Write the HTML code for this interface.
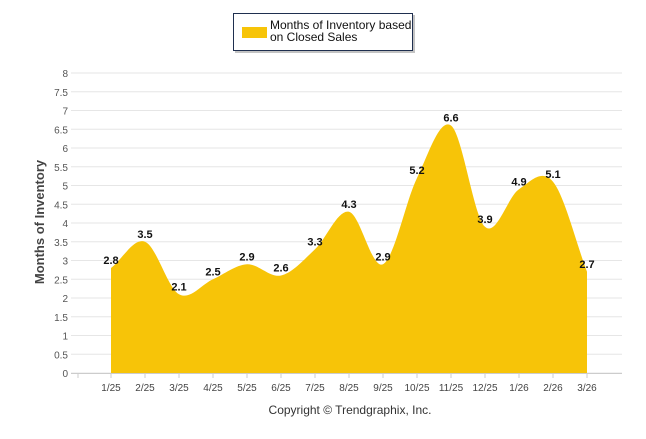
<!DOCTYPE html>
<html><head><meta charset="utf-8"><style>
body{margin:0;background:#fff;width:646px;height:434px;overflow:hidden;font-family:"Liberation Sans",sans-serif}
</style></head><body>
<svg width="646" height="434">
<g id="grid"></g>
<path id="area" fill="#F7C408"/>
<g id="labels"></g>
<g id="axis"></g>
<text x="44" y="222" transform="rotate(-90 44 222)" text-anchor="middle" font-size="13" font-weight="bold" fill="#444">Months of Inventory</text>
<text x="350" y="414" text-anchor="middle" font-size="12" fill="#333">Copyright © Trendgraphix, Inc.</text>
<g>
<rect x="235" y="15" width="180" height="38" fill="#888" opacity="0.5"/>
<rect x="233.5" y="13.5" width="179" height="37" fill="#fff" stroke="#1f2f4f" stroke-width="1"/>
<rect x="242" y="27" width="25" height="11" fill="#F7C408"/>
<text x="270" y="29" font-size="12" fill="#111"><tspan x="270">Months of Inventory based</tspan><tspan x="270" dy="12">on Closed Sales</tspan></text>
</g>
</svg>
<script>
const categories=["1/25","2/25","3/25","4/25","5/25","6/25","7/25","8/25","9/25","10/25","11/25","12/25","1/26","2/26","3/26"];
const values=[2.8,3.5,2.1,2.5,2.9,2.6,3.3,4.3,2.9,5.2,6.6,3.9,4.9,5.1,2.7];
const yTicks=[0,0.5,1,1.5,2,2.5,3,3.5,4,4.5,5,5.5,6,6.5,7,7.5,8];
const NS="http://www.w3.org/2000/svg";
const X=i=>111+i*34, Y=v=>373-v*37.5;
const grid=document.getElementById('grid'),axis=document.getElementById('axis'),labels=document.getElementById('labels');
function mk(tag,attrs,parent){const e=document.createElementNS(NS,tag);for(const k in attrs)e.setAttribute(k,attrs[k]);parent.appendChild(e);return e;}
yTicks.forEach(t=>{
 const l=mk('line',{x1:71,x2:622,y1:Y(t),y2:Y(t),stroke:'#e6e6e6'},grid);
 
 
 const tx=mk('text',{x:68,y:Y(t)+4,'text-anchor':'end','font-size':'10',fill:'#555'},axis);
 tx.textContent=t;
 
 
});
mk('line',{x1:71,x2:622,y1:373.5,y2:373.5,stroke:'#ccc'},axis);
mk('line',{x1:78,x2:78,y1:373,y2:378,stroke:'#ccc'},axis);
categories.forEach((c,i)=>{
 mk('line',{x1:X(i),x2:X(i),y1:373,y2:378,stroke:'#ccc'},axis);
 const t=mk('text',{x:X(i),y:391,'text-anchor':'middle','font-size':'10',fill:'#444'},axis);
 t.textContent=c;
 
 
});
const pts=values.map((v,i)=>[X(i),Y(v)]);
let d=`M${pts[0][0]},${Y(0)} L${pts[0][0]},${pts[0][1]}`;
const n=pts.length,s=[];
for(let i=0;i<n;i++){
 let m;
 if(i===0)m=(pts[1][1]-pts[0][1])/34;
 else if(i===n-1)m=(pts[n-1][1]-pts[n-2][1])/34;
 else m=(pts[i+1][1]-pts[i-1][1])/68;
 s.push(m);
}
for(let i=0;i<n-1;i++){
 const h=34/3;
 d+=` C${pts[i][0]+h},${pts[i][1]+s[i]*h} ${pts[i+1][0]-h},${pts[i+1][1]-s[i+1]*h} ${pts[i+1][0]},${pts[i+1][1]}`;
}
d+=` L${pts[n-1][0]},${Y(0)} Z`;
document.getElementById('area').setAttribute('d',d);
values.forEach((v,i)=>{
 const t=mk('text',{x:X(i),y:Y(v)-4,'text-anchor':'middle','font-size':'11','font-weight':'bold',fill:'#111'},labels);
 t.textContent=v.toFixed(1);
 
 
});
</script>
</body></html>
